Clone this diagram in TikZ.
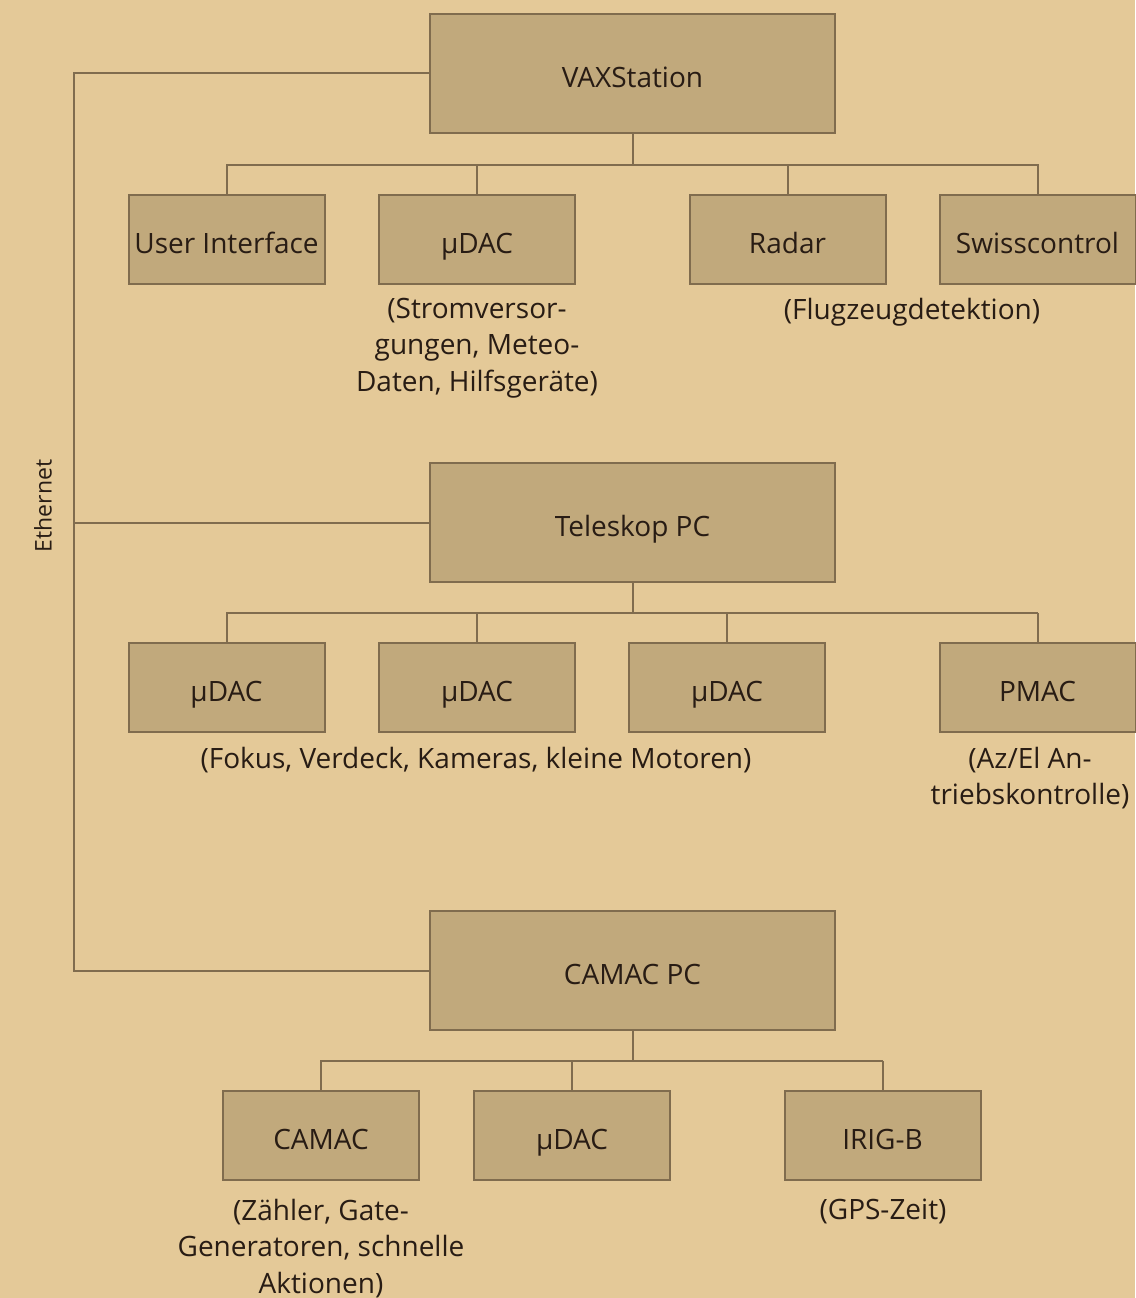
\documentclass[tikz,border=0pt]{standalone}
\usepackage{fontspec}
\setmainfont{Open Sans}
\definecolor{bgc}{RGB}{228,201,152}
\definecolor{boxc}{RGB}{193,169,124}
\definecolor{linec}{RGB}{128,108,78}
\definecolor{txtc}{RGB}{40,28,20}
\tikzset{
  unit/.style={draw=linec, line width=2pt, fill=boxc, text=txtc, inner sep=0pt,
    text height=30pt, text depth=2pt,
    minimum width=196pt, minimum height=89pt, font=\fontsize{28}{34}\selectfont},
  big/.style={unit, minimum width=405pt, minimum height=119pt},
  note/.style={text=txtc, align=center, inner sep=0pt, font=\fontsize{28}{36.5}\selectfont},
  wire/.style={draw=linec, line width=2pt}
}
\begin{document}
\begin{tikzpicture}[x=1pt,y=-1pt]
\fill[bgc] (0,0) rectangle (1135,1298);
\useasboundingbox (0,0) rectangle (1135,1298);
% main computers
\node[big] (vax) at (632.5,73.5) {VAXStation};
\node[big] (tel) at (632.5,522.5) {Teleskop PC};
\node[big] (cam) at (632.5,970.5) {CAMAC PC};
% row 1
\node[unit] (ui) at (226.5,239.5) {User Interface};
\node[unit] (ud1) at (477,239.5) {µDAC};
\node[unit] (rad) at (787.5,239.5) {Radar};
\node[unit] (sw) at (1037.5,239.5) {Swisscontrol};
% row 2
\node[unit] (ud2) at (226.5,687.5) {µDAC};
\node[unit] (ud3) at (477,687.5) {µDAC};
\node[unit] (ud4) at (727,687.5) {µDAC};
\node[unit] (pm) at (1037.5,687.5) {PMAC};
% row 3
\node[unit] (cm) at (321,1135.5) {CAMAC};
\node[unit] (ud5) at (572,1135.5) {µDAC};
\node[unit] (ir) at (882.5,1135.5) {IRIG-B};
% notes
\node[note, anchor=north] (n1) at (477,298) {(Stromversor-\\gungen, Meteo-\\Daten, Hilfsgeräte)};
\node[note, anchor=north] (n2) at (912,298) {(Flugzeugdetektion)};
\node[note, anchor=north] (n3) at (476,747) {(Fokus, Verdeck, Kameras, kleine Motoren)};
\node[note, anchor=north] (n4) at (1030,747) {(Az/El An-\\triebskontrolle)};
\node[note, anchor=north] (n5) at (321,1199) {(Zähler, Gate-\\Generatoren, schnelle\\Aktionen)};
\node[note, anchor=north] (n6) at (883,1199) {(GPS-Zeit)};
\node[note, rotate=90, font=\fontsize{23}{28}\selectfont] (eth) at (43,506) {Ethernet};
% ethernet
\coordinate (et) at (74,73.5);
\coordinate (eb) at (74,970.5);
\coordinate (em) at (74,522.5);
\draw[wire] (vax.west) -- (et) -- (eb) -- (cam.west);
\draw[wire] (em) -- (tel.west);
% buses
\draw[wire] (vax.south) -- ++(0,32);
\draw[wire] (ui.north) |- (rad.north |- 0,165) ;
\draw[wire] (sw.north) |- (ui.north |- 0,165);
\draw[wire] (ud1.north) -- (ud1.north |- 0,165);
\draw[wire] (rad.north) -- (rad.north |- 0,165);
\draw[wire] (tel.south) -- ++(0,31);
\draw[wire] (ud2.north) |- (pm.north |- 0,613);
\draw[wire] (pm.north) -- (pm.north |- 0,613);
\draw[wire] (ud3.north) -- (ud3.north |- 0,613);
\draw[wire] (ud4.north) -- (ud4.north |- 0,613);
\draw[wire] (cam.south) -- ++(0,31);
\draw[wire] (cm.north) |- (ir.north |- 0,1061);
\draw[wire] (ir.north) -- (ir.north |- 0,1061);
\draw[wire] (ud5.north) -- (ud5.north |- 0,1061);
\end{tikzpicture}
\end{document}
